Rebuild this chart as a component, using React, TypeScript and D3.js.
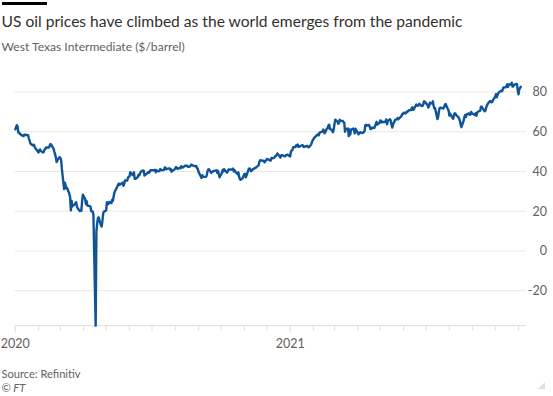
import React from 'react';
import * as d3 from 'd3';

// WTI close ($/barrel) as [month-day, value]
const wti2020: [string, number][] = [
  ["01-01",61.2],["01-03",63.3],["01-04",62.7],["01-05",59.6],["01-06",59.6],["01-07",59.0],["01-10",58.1],["01-11",58.2],["01-12",57.8],["01-13",58.5],["01-14",58.5],["01-18",58.3],["01-19",56.7],["01-20",55.6],["01-21",54.2],["01-24",53.1],["01-25",53.5],["01-26",53.3],["01-27",52.1],["01-28",51.6],["01-31",50.1],
  ["02-01",49.6],["02-02",50.8],["02-03",51.0],["02-04",50.3],["02-07",49.6],["02-08",49.9],["02-09",51.2],["02-10",51.4],["02-11",52.1],["02-15",52.1],["02-16",53.3],["02-17",53.8],["02-18",53.4],["02-21",51.4],["02-22",49.9],["02-23",48.7],["02-24",47.1],["02-25",44.8],["02-28",46.8],["02-29",47.2],
  ["03-01",46.8],["03-02",45.9],["03-03",41.3],["03-06",31.1],["03-07",34.4],["03-08",33.0],["03-09",31.5],["03-10",31.7],["03-13",28.7],["03-14",27.0],["03-15",20.4],["03-16",25.2],["03-17",22.4],["03-20",23.4],["03-21",24.0],["03-22",24.5],["03-23",22.6],["03-24",21.5],["03-27",20.1],["03-28",20.5],["03-29",20.3],["03-30",25.3],["03-31",28.3],
  ["04-03",26.1],["04-04",23.6],["04-05",25.1],["04-06",22.8],["04-10",22.4],["04-11",20.1],["04-12",19.9],["04-13",19.9],["04-14",18.3],["04-17",-37.6],["04-18",10.0],["04-19",13.8],["04-20",16.5],["04-21",16.9],["04-24",12.8],["04-25",12.3],["04-26",15.1],["04-27",18.8],["04-28",19.8],
  ["05-01",20.4],["05-02",24.6],["05-03",24.0],["05-04",23.6],["05-05",24.7],["05-08",24.1],["05-09",25.8],["05-10",25.3],["05-11",27.6],["05-12",29.4],["05-15",31.8],["05-16",32.5],["05-17",33.5],["05-18",33.9],["05-19",33.3],["05-23",34.4],["05-24",32.8],["05-25",33.7],["05-26",35.5],["05-29",35.4],["05-30",36.8],["05-31",37.3],
  ["06-01",37.4],["06-02",39.6],["06-05",38.2],["06-06",38.9],["06-07",39.6],["06-08",36.3],["06-09",36.3],["06-12",37.1],["06-13",38.4],["06-14",38.0],["06-15",38.8],["06-16",39.8],["06-19",40.5],["06-20",40.4],["06-21",38.0],["06-22",38.7],["06-23",38.5],["06-26",39.7],["06-27",39.3],["06-28",39.8],["06-29",40.7],
  ["07-03",40.6],["07-04",40.6],["07-05",40.9],["07-06",39.6],["07-07",40.6],["07-10",40.1],["07-11",40.3],["07-12",41.2],["07-13",40.8],["07-14",40.6],["07-17",40.8],["07-18",42.0],["07-19",41.9],["07-20",41.1],["07-21",41.3],["07-24",41.6],["07-25",41.0],["07-26",41.3],["07-27",39.9],["07-28",40.3],["07-31",41.0],
  ["08-01",41.7],["08-02",42.2],["08-03",42.0],["08-04",41.2],["08-07",41.9],["08-08",41.6],["08-09",42.7],["08-10",42.2],["08-11",42.0],["08-14",42.9],["08-15",42.9],["08-16",42.9],["08-17",42.8],["08-18",42.3],["08-21",42.6],["08-22",43.4],["08-23",43.4],["08-24",43.0],["08-25",43.0],["08-28",42.6],["08-29",42.8],["08-30",41.5],["08-31",41.4],
  ["09-01",39.8],["09-05",36.8],["09-06",38.1],["09-07",37.3],["09-08",37.3],["09-11",37.3],["09-12",38.3],["09-13",40.2],["09-14",41.0],["09-15",41.1],["09-18",39.3],["09-19",39.8],["09-20",39.9],["09-21",40.3],["09-22",40.3],["09-25",40.6],["09-26",39.3],["09-27",40.2],["09-28",38.7],["09-29",37.1],
  ["10-02",39.2],["10-03",40.7],["10-04",40.0],["10-05",41.2],["10-06",40.6],["10-09",39.4],["10-10",40.2],["10-11",41.0],["10-12",41.0],["10-13",40.9],["10-16",41.1],["10-17",41.5],["10-18",40.0],["10-19",40.6],["10-20",39.9],["10-23",38.6],["10-24",39.6],["10-25",37.4],["10-26",36.2],["10-27",35.8],["10-30",36.8],["10-31",37.7],
  ["11-01",38.8],["11-02",38.8],["11-03",37.1],["11-06",40.3],["11-07",41.4],["11-08",41.5],["11-09",41.1],["11-10",40.1],["11-13",41.3],["11-14",41.4],["11-15",41.8],["11-16",41.7],["11-17",42.2],["11-20",43.1],["11-21",44.9],["11-22",45.7],["11-24",45.5],["11-27",45.3],["11-28",44.6],["11-29",45.3],["11-30",45.6],
  ["12-01",46.3],["12-04",45.8],["12-05",45.6],["12-06",45.5],["12-07",46.8],["12-08",46.6],["12-11",47.0],["12-12",47.6],["12-13",47.8],["12-14",48.4],["12-15",49.1],["12-18",47.7],["12-19",47.0],["12-20",48.1],["12-21",48.2],["12-25",47.6],["12-26",48.0],["12-27",48.4],["12-28",48.5],
];

const wti2021: [string, number][] = [
  ["01-01",47.6],["01-02",49.9],["01-03",50.6],["01-04",50.8],["01-05",52.2],["01-08",52.3],["01-09",53.2],["01-10",52.9],["01-11",53.6],["01-12",52.4],["01-16",53.0],["01-17",53.2],["01-18",53.1],["01-19",52.3],["01-22",52.8],["01-23",52.6],["01-24",52.9],["01-25",52.3],["01-26",52.2],["01-29",53.6],["01-30",54.8],["01-31",55.7],
  ["02-01",56.2],["02-02",56.9],["02-05",58.0],["02-06",58.4],["02-07",58.7],["02-08",58.2],["02-09",59.5],["02-13",60.1],["02-14",61.1],["02-15",60.5],["02-16",59.2],["02-19",61.7],["02-20",61.7],["02-21",63.2],["02-22",63.5],["02-23",61.5],["02-26",60.6],["02-27",59.8],["02-28",61.3],
  ["03-01",63.8],["03-02",66.1],["03-05",65.1],["03-06",64.0],["03-07",64.4],["03-08",66.0],["03-09",65.6],["03-12",65.4],["03-13",64.8],["03-14",64.6],["03-15",60.0],["03-16",61.4],["03-19",61.6],["03-20",57.8],["03-21",61.2],["03-22",58.6],["03-23",61.0],["03-26",61.6],["03-27",60.6],["03-28",59.2],["03-29",61.5],
  ["04-02",58.7],["04-03",59.3],["04-04",59.8],["04-05",59.6],["04-06",59.3],["04-09",59.7],["04-10",60.2],["04-11",63.2],["04-12",63.5],["04-13",63.1],["04-16",63.4],["04-17",62.4],["04-18",61.4],["04-19",61.4],["04-20",62.1],["04-23",61.9],["04-24",62.9],["04-25",63.9],["04-26",65.0],["04-27",63.6],["04-30",64.5],
  ["05-01",65.7],["05-02",65.6],["05-03",64.7],["05-04",64.9],["05-07",64.9],["05-08",65.3],["05-09",66.1],["05-10",63.8],["05-11",65.4],["05-14",66.3],["05-15",65.5],["05-16",63.4],["05-17",62.1],["05-18",63.6],["05-21",66.1],["05-22",66.1],["05-23",66.2],["05-24",66.9],["05-25",66.3],["05-29",67.7],["05-30",68.8],["05-31",68.8],
  ["06-01",69.6],["06-04",69.2],["06-05",70.1],["06-06",70.0],["06-07",70.3],["06-08",70.9],["06-11",70.9],["06-12",72.1],["06-13",72.2],["06-14",71.0],["06-15",71.6],["06-18",73.7],["06-19",73.1],["06-20",73.1],["06-21",73.3],["06-22",74.1],["06-25",72.9],["06-26",73.0],["06-27",73.5],["06-28",75.2],["06-29",75.2],
  ["07-03",73.4],["07-04",72.2],["07-05",72.9],["07-06",74.6],["07-09",74.1],["07-10",75.3],["07-11",73.1],["07-12",71.7],["07-13",71.8],["07-16",66.4],["07-17",67.4],["07-18",70.3],["07-19",71.9],["07-20",72.1],["07-23",71.9],["07-24",71.7],["07-25",72.4],["07-26",73.6],["07-27",74.0],["07-30",71.3],["07-31",70.6],
  ["08-01",68.2],["08-02",69.1],["08-03",68.3],["08-06",66.5],["08-07",68.3],["08-08",69.3],["08-09",69.1],["08-10",68.4],["08-13",67.3],["08-14",66.6],["08-15",65.5],["08-16",63.7],["08-17",62.3],["08-20",65.6],["08-21",67.5],["08-22",68.4],["08-23",67.4],["08-24",68.7],["08-27",69.2],["08-28",68.5],["08-29",68.6],["08-30",70.0],["08-31",69.3],
  ["09-04",68.4],["09-05",69.3],["09-06",68.1],["09-07",69.7],["09-10",70.5],["09-11",70.5],["09-12",72.6],["09-13",72.6],["09-14",72.0],["09-17",70.3],["09-18",70.6],["09-19",72.2],["09-20",73.3],["09-21",74.0],["09-24",75.5],["09-25",75.3],["09-26",74.8],["09-27",75.0],["09-28",75.9],
  ["10-01",77.6],["10-02",78.9],["10-03",77.4],["10-04",78.3],["10-05",79.4],["10-08",80.5],["10-09",80.6],["10-10",80.4],["10-11",81.3],["10-12",82.3],["10-15",82.4],["10-16",83.0],["10-17",83.9],["10-18",82.5],["10-19",83.8],["10-22",83.8],["10-23",84.7],["10-24",82.7],["10-25",82.8],["10-26",83.6],["10-29",84.1],["10-30",83.9],["10-31",80.9],
  ["11-01",78.8],["11-02",81.3],["11-04",82.6],
];

const yTicks = [-20, 0, 20, 40, 60, 80];
const xStart = "2020-01-01";
const xEnd = "2021-11-11";

const title = "US oil prices have climbed as the world emerges from the pandemic";
const subtitle = "West Texas Intermediate ($/barrel)";
const source = "Source: Refinitiv";

const parse = d3.timeParse("%Y-%m-%d");

const series = [
  ...wti2020.map(([d, v]) => ({ date: parse(`2020-${d}`) as Date, value: v })),
  ...wti2021.map(([d, v]) => ({ date: parse(`2021-${d}`) as Date, value: v })),
];

const W = 553;
const H = 396;
const FONT = "Lato, 'Noto Sans', sans-serif";

export default function App() {
  const x = d3.scaleTime()
    .domain([parse(xStart) as Date, parse(xEnd) as Date])
    .range([15.3, 526]);
  const y = d3.scaleLinear().domain([-20, 80]).range([290.7, 92]);

  const yBase = y(d3.min(series, d => d.value) as number);
  const months = d3.timeMonth.range(x.domain()[0], d3.timeDay.offset(x.domain()[1], 1));

  const line = d3.line<{ date: Date; value: number }>()
    .x(d => x(d.date))
    .y(d => y(d.value));

  const grey = "#66605c";

  return (
    <svg width={W} height={H} style={{ position: 'absolute', left: 0, top: 0, background: '#fff' }}
      fontFamily={FONT}>
      <rect x={2} y={2} width={45} height={3} fill="#000" />
      <text x={1.5} y={26.5} fontSize={15.6} fill="#33302e">{title}</text>
      <text x={1.5} y={50.5} fontSize={12.1} fill={grey}>{subtitle}</text>

      {yTicks.map(t => (
        <g key={t}>
          <line x1={14.5} x2={526} y1={y(t)} y2={y(t)} stroke="#ece8e3" strokeWidth={1} />
          <text x={547} y={y(t)} dy="0.35em" textAnchor="end" fontSize={12.5} fill={grey}>{t}</text>
        </g>
      ))}

      <line x1={14.5} x2={526} y1={yBase} y2={yBase} stroke="#e3ded8" strokeWidth={1} />
      {months.map(m => {
        const isYear = m.getMonth() === 0;
        return (
          <g key={+m}>
            <line x1={x(m)} x2={x(m)} y1={yBase} y2={yBase + (isYear ? 7 : 5)} stroke="#e3ded8" strokeWidth={1} />
            {isYear && (
              <text x={x(m)} y={348} textAnchor="middle" fontSize={12.5} fill={grey}>{d3.timeFormat("%Y")(m)}</text>
            )}
          </g>
        );
      })}

      <path d={line(series) as string} fill="none" stroke="#0f5499" strokeWidth={2.4}
        strokeLinejoin="round" strokeLinecap="round" />

      <text x={1.5} y={378} fontSize={11.1} fill={grey}>{source}</text>
      <text x={1.5} y={391.5} fontSize={11.1} fill={grey} fontStyle="italic">© FT</text>
      <polygon points="545,382 545,389 538,389" fill="#e8ddd3" />
    </svg>
  );
}
